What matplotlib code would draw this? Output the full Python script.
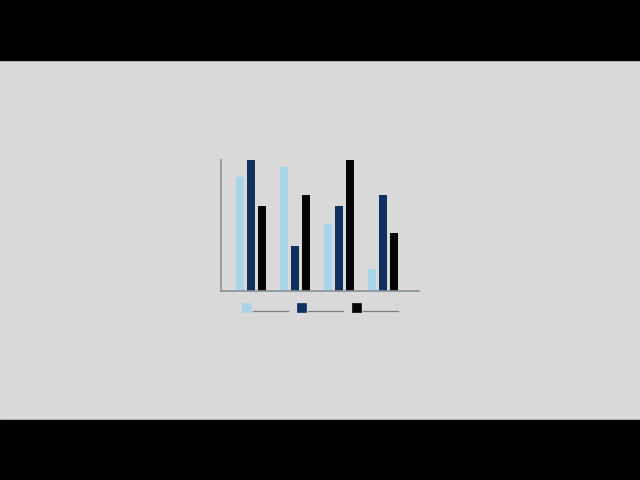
import matplotlib.pyplot as plt
from matplotlib.patches import Rectangle
from matplotlib.lines import Line2D
import numpy as np

groups = ["A", "B", "C", "D"]
series_light = [87, 95, 51, 17]
series_dark = [100, 34, 65, 73]
series_black = [65, 73, 100, 44]
colors = ["#a9d5e8", "#10315f", "#050505"]

W, H = 640, 480
fig = plt.figure(figsize=(6.4, 4.8), dpi=100)
fig.patch.set_facecolor("#d9d9d9")

# letterbox bands
fig.add_artist(Rectangle((0, 0), 1, 60 / H, transform=fig.transFigure, color="black", zorder=0))
fig.add_artist(Rectangle((0, 1 - 60 / H), 1, 60 / H, transform=fig.transFigure, color="black", zorder=0))

ax = fig.add_axes([221 / W, 189 / H, 198 / W, 131 / H])
ax.set_facecolor("none")

x = np.arange(len(groups))
width = 0.18
step = 0.243
for i, (vals, c) in enumerate(zip([series_light, series_dark, series_black], colors)):
    ax.bar(x + (i - 1) * step, vals, width, color=c)

ax.set_xlim(-0.68, 3.82)
ax.set_ylim(0, 100)
ax.set_xticks([])
ax.set_yticks([])
for s in ["top", "right"]:
    ax.spines[s].set_visible(False)
for s in ["left", "bottom"]:
    ax.spines[s].set_color("#8a8f99")
    ax.spines[s].set_linewidth(1.2)

# legend: swatches + placeholder label lines
for i, c in enumerate(colors):
    x0 = 242 + i * 55
    fig.add_artist(Rectangle((x0 / W, 1 - 312 / H), 9 / W, 9 / H,
                             transform=fig.transFigure, facecolor=c,
                             edgecolor="#a9d5e8" if i == 0 else c, lw=0.5))
    fig.add_artist(Line2D([(x0 + 11) / W, (x0 + 46) / W], [1 - 311 / H, 1 - 311 / H],
                          transform=fig.transFigure, color="#7a7d84", lw=0.9))

fig.savefig("out.png", dpi=100, facecolor=fig.get_facecolor())
